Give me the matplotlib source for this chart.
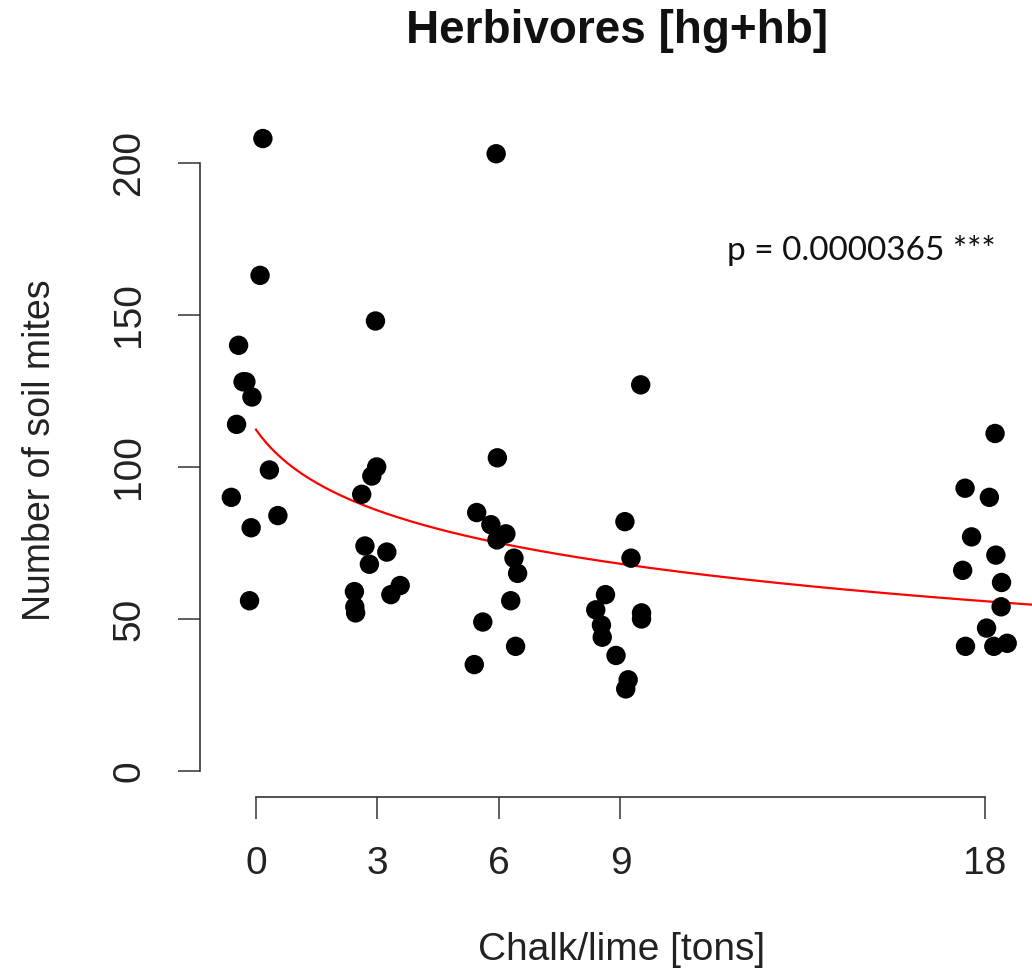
import numpy as np
import matplotlib
matplotlib.use("Agg")
import matplotlib.pyplot as plt

# chalk/lime dose groups (tons)
doses = [0, 3, 6, 9, 18]

# jittered x positions and counts of herbivore soil mites, per dose group
x_d0 = [0.17, 0.10, -0.43, -0.32, -0.25, -0.10, -0.48, 0.33, -0.61, 0.54, -0.12, -0.16]
y_d0 = [208, 163, 140, 128, 128, 123, 114, 99, 90, 84, 80, 56]

x_d3 = [2.95, 2.98, 2.86, 2.61, 2.69, 3.23, 2.80, 3.56, 3.33, 2.43, 2.44, 2.46]
y_d3 = [148, 100, 97, 91, 74, 72, 68, 61, 58, 59, 54, 52]

x_d6 = [5.93, 5.96, 5.45, 5.80, 6.17, 5.95, 6.37, 6.46, 6.29, 5.60, 6.41, 5.39]
y_d6 = [203, 103, 85, 81, 78, 76, 70, 65, 56, 49, 41, 35]

x_d9 = [9.50, 9.11, 9.26, 8.63, 8.39, 9.52, 9.52, 8.53, 8.55, 8.89, 9.19, 9.13]
y_d9 = [127, 82, 70, 58, 53, 52, 50, 48, 44, 38, 30, 27]

x_d18 = [18.25, 17.51, 18.11, 17.67, 18.27, 17.45, 18.41, 18.40, 18.04, 17.52, 18.22, 18.55]
y_d18 = [111, 93, 90, 77, 71, 66, 62, 54, 47, 41, 41, 42]

y_ticks = [0, 50, 100, 150, 200]
p_label = "p = 0.0000365 ***"

xs = np.array(x_d0 + x_d3 + x_d6 + x_d9 + x_d18)
ys = np.array(y_d0 + y_d3 + y_d6 + y_d9 + y_d18)
nominal = np.repeat(doses, 12)

# log(dose + 1) regression for the red trend line
b, a = np.polyfit(np.log(nominal + 1), ys, 1)

W, H = 1032, 973
fig = plt.figure(figsize=(W / 100, H / 100), dpi=100)
plt.rcParams['font.family'] = ['Liberation Sans', 'DejaVu Sans']

# plot region in pixels: left 200, right 1040, top 113, bottom 797
ax = fig.add_axes([200 / W, 1 - 797 / H, 840 / W, (797 - 113) / H])
xmin, xmax = -1.383, 19.36
ax.set_xlim(xmin, xmax)
ax.set_ylim(-8.55, 216.4)

ax.scatter(xs, ys, s=195, color='black', edgecolors='none', zorder=3)

xc = np.linspace(0, xmax, 300)
ax.plot(xc, a + b * np.log(xc + 1), color='red', lw=1.6, zorder=2)

for s in ['top', 'right']:
    ax.spines[s].set_visible(False)
ax.spines['left'].set_bounds(0, 200)
ax.spines['bottom'].set_bounds(0, 18)
for s in ['left', 'bottom']:
    ax.spines[s].set_color('#333333')
    ax.spines[s].set_linewidth(1.2)

ax.set_xticks(doses)
ax.set_xticklabels([str(d) for d in doses])
ax.set_yticks(y_ticks)
ax.set_yticklabels([str(v) for v in y_ticks], rotation=90, va='center')
ax.tick_params(axis='both', direction='out', length=16, width=1.1,
               color='#333333', labelsize=28, labelcolor='#222222')
ax.tick_params(axis='x', pad=19)
ax.tick_params(axis='y', pad=22)

fig.text(617 / W, 1 - 43 / H, "Herbivores [hg+hb]", fontsize=33,
         fontweight='bold', ha='center', va='baseline', color='#111111')
fig.text(622 / W, 1 - 960 / H, "Chalk/lime [tons]", fontsize=28,
         ha='center', va='baseline', color='#222222')
fig.text(50 / W, 1 - 450 / H, "Number of soil mites", fontsize=27,
         rotation=90, rotation_mode='anchor', ha='center', va='baseline',
         color='#222222')
fig.text(861 / W, 1 - 260 / H, p_label, fontsize=24,
         family=['Lato', 'DejaVu Sans'], ha='center', va='baseline',
         color='#111111')

fig.savefig("out.png", dpi=100)
